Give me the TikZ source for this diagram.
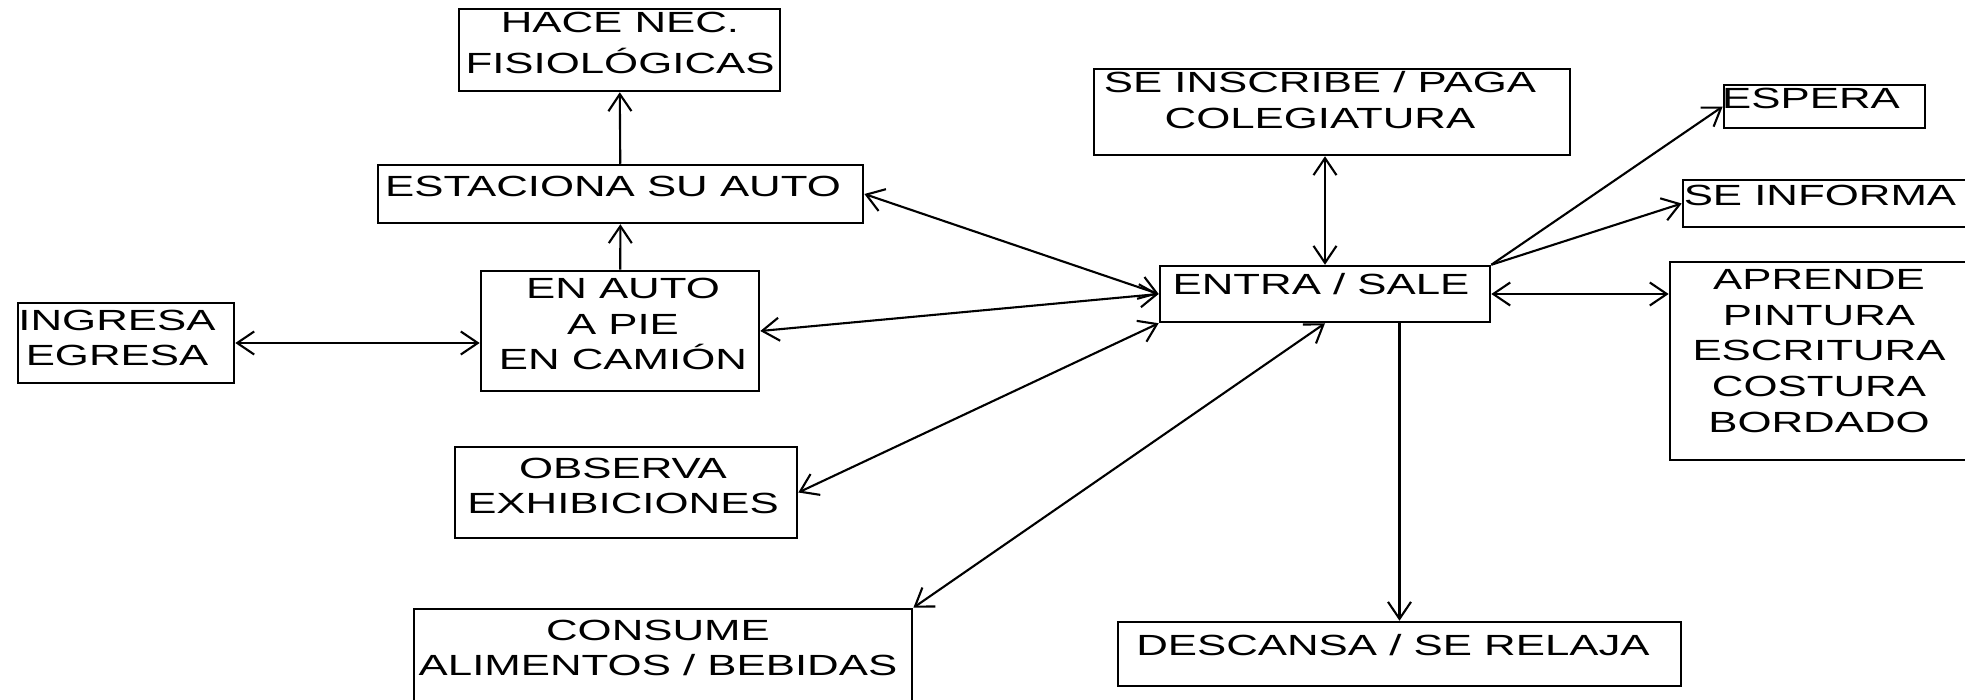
\documentclass[tikz,border=0pt]{standalone}
\usepackage{fontspec}
\setmainfont[FakeStretch=1.5]{Liberation Sans}
\usepackage{tikz}
\usetikzlibrary{arrows.meta, positioning, calc}
\tikzset{
    actbox/.style={draw, rectangle, line width=0.7pt, inner sep=0pt},
    lbl/.style={font=\fontsize{8.3}{10.2}\selectfont, align=center, inner sep=0pt},
    onearrow/.style={-{Straight Barb[length=1.7mm, width=2.3mm]}, line width=0.6pt},
    twoarrow/.style={{Straight Barb[length=1.7mm, width=2.3mm]}-{Straight Barb[length=1.7mm, width=2.3mm]}, line width=0.6pt},
}

\begin{document}
\begin{tikzpicture}[x=0.01cm, y=-0.01cm]
    \useasboundingbox (0,0) rectangle (1965,700);

    % Left column
    \node[actbox, minimum width=3.21cm, minimum height=0.82cm] (hace) at (619.5,50) {};
    \node[lbl] (hace-t) at (620,43) {HACE NEC.\\[0.5mm]FISIOLÓGICAS};

    \node[actbox, minimum width=4.85cm, minimum height=0.58cm] (estaciona) at (620.5,194) {};
    \node[lbl] (estaciona-t) at (613,186) {ESTACIONA SU AUTO};

    \node[actbox, minimum width=2.78cm, minimum height=1.20cm] (enauto) at (620,331) {};
    \node[lbl] (enauto-t) at (623,324) {EN AUTO\\A PIE\\EN CAMIÓN};

    \node[actbox, minimum width=2.16cm, minimum height=0.80cm] (ingresa) at (126,343) {};
    \node[lbl] (ingresa-t) at (117,338) {INGRESA\\EGRESA};

    \node[actbox, minimum width=3.42cm, minimum height=0.91cm] (observa) at (626,492.5) {};
    \node[lbl] (observa-t) at (623,486) {OBSERVA\\EXHIBICIONES};

    \node[actbox, minimum width=4.98cm, minimum height=1.20cm] (consume) at (663,669) {};
    \node[lbl] (consume-t) at (658,648) {CONSUME\\ALIMENTOS / BEBIDAS};

    % Centre
    \node[actbox, minimum width=3.30cm, minimum height=0.56cm] (entra) at (1325,294) {};
    \node[lbl] (entra-t) at (1321,284) {ENTRA / SALE};

    \node[actbox, minimum width=4.76cm, minimum height=0.86cm] (inscribe) at (1332,112) {};
    \node[lbl] (inscribe-t) at (1320,100) {SE INSCRIBE / PAGA\\COLEGIATURA};

    \node[actbox, minimum width=5.63cm, minimum height=0.64cm] (descansa) at (1399.5,654) {};
    \node[lbl] (descansa-t) at (1393,645) {DESCANSA / SE RELAJA};

    % Right column
    \node[actbox, minimum width=2.01cm, minimum height=0.43cm] (espera) at (1824.5,106.5) {};
    \node[lbl] (espera-t) at (1811,98) {ESPERA};

    \node[actbox, minimum width=2.92cm, minimum height=0.47cm] (informa) at (1829,203.5) {};
    \node[lbl] (informa-t) at (1820,195) {SE INFORMA};

    \node[actbox, minimum width=3.05cm, minimum height=1.98cm] (aprende) at (1822.5,361) {};
    \node[lbl] (aprende-t) at (1819,351) {APRENDE\\PINTURA\\ESCRITURA\\COSTURA\\BORDADO};

    % Connections
    \draw[onearrow] (estaciona) -- (hace);
    \draw[onearrow] (enauto) -- (estaciona);
    \draw[twoarrow] (ingresa.east) -- (ingresa.east -| enauto.west);
    \draw[twoarrow] (estaciona.east) -- (entra.west);
    \draw[twoarrow] (enauto.east) -- (entra.west);
    \draw[twoarrow] (observa.east) -- (entra.south west);
    \draw[twoarrow] (consume.north east) -- (entra.south);
    \draw[onearrow] (entra.south -| descansa.north) -- (descansa.north);
    \draw[twoarrow] (inscribe.south -| entra.north) -- (entra.north);
    \draw[onearrow] (entra.north east) -- (espera.west);
    \draw[onearrow] (entra.north east) -- (informa.west);
    \draw[twoarrow] (entra.east) -- (entra.east -| aprende.west);
\end{tikzpicture}
\end{document}
